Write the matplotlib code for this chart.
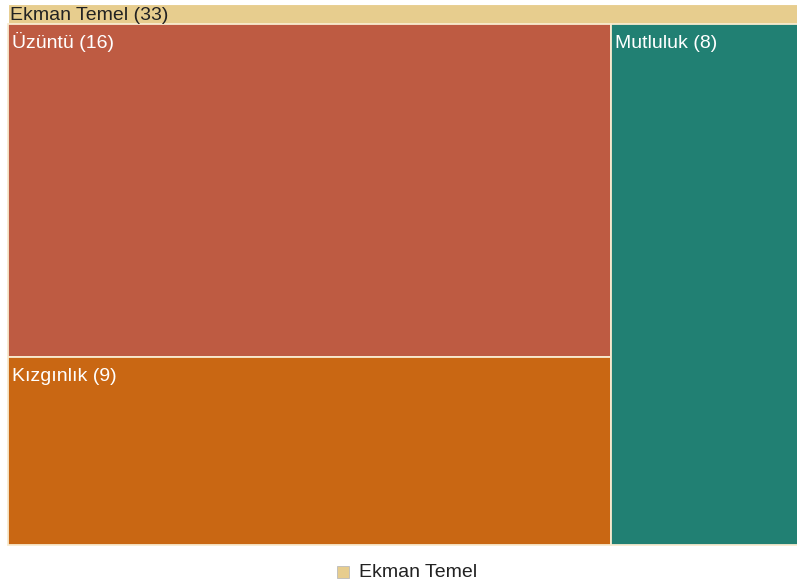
import matplotlib.pyplot as plt
from matplotlib.patches import Rectangle

plt.rcParams['font.family'] = ['Liberation Sans', 'DejaVu Sans']

# veri
parent = 'Ekman Temel'
labels = ['Üzüntü', 'Kızgınlık', 'Mutluluk']
values = [16, 9, 8]
colors = ['#BE5B42', '#C96713', '#218073']
parent_color = '#E7CD8E'
# hangi kutu hangi sütunda
columns = [[0, 1], [2]]

W, H = 797, 587
fig = plt.figure(figsize=(W / 100, H / 100), dpi=100)
ax = fig.add_axes([0, 0, 1, 1])
ax.set_xlim(0, W)
ax.set_ylim(H, 0)
ax.axis('off')

# treemap alani (piksel), sag kenar resmin disina tasiyor
x0, x1 = 8, 804
y0, y1 = 4, 545
header = 20

total = sum(values)
ax.add_patch(Rectangle((x0, y0), x1 - x0, y1 - y0, facecolor=parent_color,
                       edgecolor='white', linewidth=0.8))
ax.text(x0 + 2, y0 + 16, f'{parent} ({total})', fontsize=14,
        color='#222222', va='baseline', ha='left')

cy0 = y0 + header
ch = y1 - cy0
cx = x0
for col in columns:
    col_sum = sum(values[i] for i in col)
    cw = (x1 - x0) * col_sum / total
    yy = cy0
    for i in col:
        hh = ch * values[i] / col_sum
        ax.add_patch(Rectangle((cx, yy), cw, hh, facecolor=colors[i],
                               edgecolor='#F8EBD0', linewidth=1.3))
        ax.text(cx + 4, yy + 23.5, f'{labels[i]} ({values[i]})', fontsize=14,
                color='white', va='baseline', ha='left')
        yy += hh
    cx += cw

# lejant
ax.add_patch(Rectangle((337, 566), 12, 12, facecolor=parent_color,
                       edgecolor='#BBBBBB', linewidth=0.6))
ax.text(359, 577, parent, fontsize=14, color='#222222', va='baseline', ha='left')

fig.savefig('out.png', dpi=100)
